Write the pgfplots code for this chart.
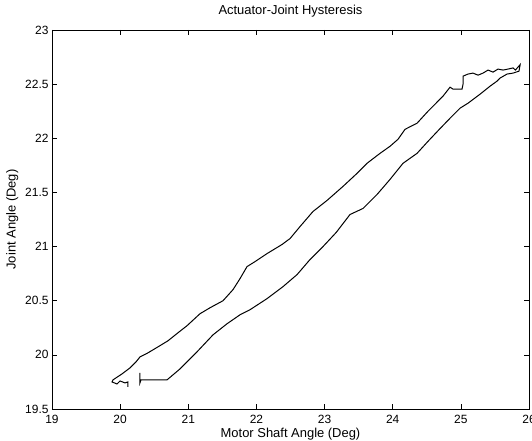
\documentclass[border=0pt]{standalone}
\usepackage{fontspec}
\setmainfont{Liberation Sans}
\usepackage{pgfplots}
\pgfplotsset{compat=1.18}
\begin{document}
\begin{tikzpicture}
\begin{axis}[
  scale only axis,
  width=477bp, height=379bp,
  xmin=19, xmax=26, ymin=19.5, ymax=23,
  xtick={19,20,21,22,23,24,25,26},
  ytick={19.5,20,20.5,21,21.5,22,22.5,23},
  yticklabels={19.5,20,20.5,21,21.5,22,22.5,23},
  xticklabels={19,20,21,22,23,24,25,26},
  tick align=inside,
  tick pos=both,
  xticklabel pos=bottom, yticklabel pos=left,
  major tick length=5bp,
  tick style={black, line width=0.6bp},
  axis line style={black, line width=0.8bp},
  /pgf/number format/assume math mode=true,
  tick label style={font=\fontsize{12}{14}\selectfont},
  x tick label style={anchor=base, yshift=-14bp},
  label style={font=\fontsize{13}{15}\selectfont},
  title style={font=\fontsize{13}{15}\selectfont, at={(0.5,1)}, anchor=base, yshift=10bp},
  title={Actuator-Joint Hysteresis},
  xlabel={Motor Shaft Angle (Deg)},
  ylabel={Joint Angle (Deg)},
  xlabel style={at={(0.5,0)}, anchor=base, yshift=-28bp},
]
\addplot[black, line width=1bp, mark=none] coordinates {
(20.291,19.833) (20.291,19.741) (20.306,19.769) (20.688,19.769)
(20.878,19.870) (21.128,20.028) (21.363,20.185) (21.568,20.287)
(21.759,20.370) (21.906,20.417) (22.155,20.519) (22.390,20.630)
(22.596,20.741) (22.786,20.880) (22.977,21.000) (23.170,21.130)
(23.373,21.296) (23.564,21.352) (23.770,21.481) (23.960,21.620)
(24.151,21.769) (24.357,21.861) (24.518,21.972) (24.680,22.080)
(24.841,22.185) (24.988,22.278) (25.105,22.324) (25.281,22.407)
(25.428,22.481) (25.531,22.528) (25.575,22.556) (25.677,22.593)
(25.766,22.602) (25.853,22.620) (25.870,22.680) (25.800,22.630)
(25.766,22.650) (25.692,22.639) (25.619,22.630) (25.545,22.639)
(25.472,22.611) (25.399,22.630) (25.325,22.602) (25.252,22.583)
(25.178,22.602) (25.105,22.593) (25.032,22.574) (25.032,22.500)
(25.017,22.454) (24.885,22.454) (24.841,22.472) (24.738,22.389)
(24.591,22.296) (24.518,22.250) (24.357,22.139) (24.181,22.083)
(24.078,21.991) (23.960,21.926) (23.814,21.861) (23.623,21.769)
(23.476,21.676) (23.271,21.556) (23.036,21.426) (22.830,21.324)
(22.640,21.185) (22.493,21.074) (22.375,21.019) (22.155,20.935)
(21.979,20.861) (21.862,20.815) (21.759,20.704) (21.656,20.602)
(21.510,20.500) (21.319,20.435) (21.172,20.380) (20.981,20.269)
(20.849,20.204) (20.702,20.130) (20.556,20.074) (20.409,20.019)
(20.291,19.981) (20.233,19.935) (20.145,19.880) (20.027,19.824)
(19.895,19.769) (19.881,19.750) (19.954,19.731) (19.998,19.759)
(20.071,19.741) (20.115,19.750) (20.115,19.704)
};
\end{axis}
\pgfresetboundingbox
\path[use as bounding box] ([xshift=-52bp,yshift=-31bp]current axis.south west) rectangle ([xshift=3bp,yshift=30bp]current axis.north east);
\end{tikzpicture}
\end{document}
